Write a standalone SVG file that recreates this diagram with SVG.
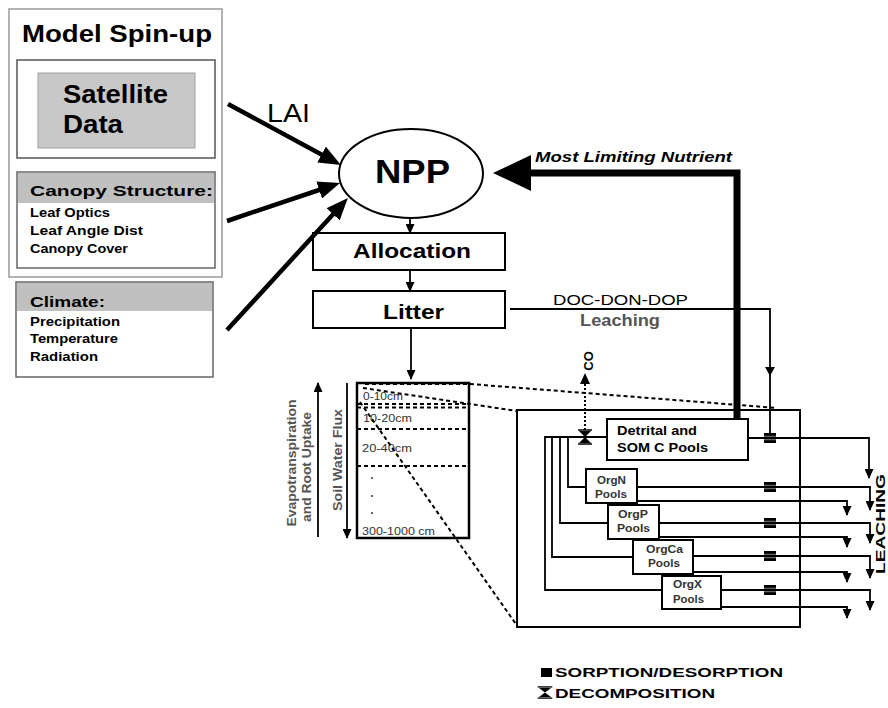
<svg xmlns="http://www.w3.org/2000/svg" width="888" height="708" viewBox="0 0 888 708">
<defs>
<style>
text{font-family:"Liberation Sans",Arial,sans-serif;fill:#000}
.b{font-weight:bold}
.box{fill:#fff;stroke:#000;stroke-width:2}
.ln{fill:none;stroke:#000;stroke-width:1.8}
.thick{fill:none;stroke:#000;stroke-width:4.5}
.dash{fill:none;stroke:#000;stroke-width:2;stroke-dasharray:4 3}
.soil{font-size:11px;fill:#333}
.org{font-size:11px;font-weight:bold;fill:#333}
.gray{fill:#555}
</style>
<marker id="big" viewBox="0 0 22 18" refX="14" refY="9" markerWidth="22" markerHeight="18" markerUnits="userSpaceOnUse" orient="auto">
<path d="M0,0 L22,9 L0,18 z" fill="#000"/>
</marker>
<marker id="sm" viewBox="0 0 10 9" refX="9" refY="4.5" markerWidth="10" markerHeight="9" markerUnits="userSpaceOnUse" orient="auto">
<path d="M0,0 L10,4.5 L0,9 z" fill="#000"/>
</marker>
<g id="sorp">
<rect x="-6" y="-5" width="12" height="10" fill="#000"/>
<line x1="-6" y1="-1.7" x2="6" y2="-1.7" stroke="#fff" stroke-width="0.5"/>
<line x1="-6" y1="1.7" x2="6" y2="1.7" stroke="#fff" stroke-width="0.5"/>
</g>
<g id="hg">
<path d="M-7,-7 H7 M-7,7 H7" stroke="#000" stroke-width="1.6"/>
<path d="M-6,-6 L6,-6 L0,0 z M-6,6 L6,6 L0,0 z" fill="#000"/>
</g>
</defs>
<rect width="888" height="708" fill="#fff"/>

<g id="spinup">
<rect x="9" y="9" width="213" height="268" fill="#fff" stroke="#9a9a9a" stroke-width="1.5"/>
<text x="22" y="42" class="b" font-size="23" textLength="190" lengthAdjust="spacingAndGlyphs">Model Spin-up</text>
</g>
<g id="satellite">
<rect x="17" y="60" width="198" height="98" fill="#fff" stroke="#555" stroke-width="1.5"/>
<rect x="38" y="73" width="157" height="75" fill="#c8c8c8" stroke="#a0a0a0" stroke-width="1"/>
<text x="63" y="103" class="b" font-size="25" textLength="105" lengthAdjust="spacingAndGlyphs">Satellite</text>
<text x="63" y="133" class="b" font-size="25" textLength="60" lengthAdjust="spacingAndGlyphs">Data</text>
</g>
<g id="canopy">
<rect x="17" y="172" width="198" height="96" fill="#fff" stroke="#666" stroke-width="1.5"/>
<rect x="18" y="173" width="196" height="30" fill="#c0c0c0"/>
<text x="30" y="196" class="b" font-size="15.5" textLength="183" lengthAdjust="spacingAndGlyphs">Canopy Structure:</text>
<text x="30" y="217" class="b" font-size="12" textLength="80" lengthAdjust="spacingAndGlyphs">Leaf Optics</text>
<text x="30" y="235" class="b" font-size="12" textLength="113" lengthAdjust="spacingAndGlyphs">Leaf Angle Dist</text>
<text x="30" y="253" class="b" font-size="12" textLength="98" lengthAdjust="spacingAndGlyphs">Canopy Cover</text>
</g>
<g id="climate">
<rect x="16" y="282" width="197" height="95" fill="#fff" stroke="#666" stroke-width="1.5"/>
<rect x="17" y="283" width="195" height="28" fill="#c0c0c0"/>
<text x="30" y="307" class="b" font-size="15.5" textLength="75" lengthAdjust="spacingAndGlyphs">Climate:</text>
<text x="30" y="326" class="b" font-size="12" textLength="90" lengthAdjust="spacingAndGlyphs">Precipitation</text>
<text x="30" y="343" class="b" font-size="12" textLength="88" lengthAdjust="spacingAndGlyphs">Temperature</text>
<text x="30" y="361" class="b" font-size="12" textLength="68" lengthAdjust="spacingAndGlyphs">Radiation</text>
</g>

<g id="npp">
<ellipse cx="411" cy="173.5" rx="72" ry="44.5" fill="#fff" stroke="#000" stroke-width="2"/>
<text x="375" y="183" class="b" font-size="34" textLength="75" lengthAdjust="spacingAndGlyphs">NPP</text>
</g>
<g id="allocation">
<rect x="313" y="233" width="192" height="37" class="box"/>
<text x="353" y="258" class="b" font-size="21" textLength="118" lengthAdjust="spacingAndGlyphs">Allocation</text>
</g>
<g id="litter">
<rect x="313" y="291" width="192" height="37" class="box"/>
<text x="383" y="319" class="b" font-size="21" textLength="61" lengthAdjust="spacingAndGlyphs">Litter</text>
</g>

<g id="soil-column">
<rect x="357" y="383" width="112" height="155" fill="#fff" stroke="#000" stroke-width="2.5"/>
<path d="M357,404 H469 M357,407.5 H469 M357,429 H469 M357,466 H469" class="dash" stroke-width="1.6"/>
<text x="363" y="400" class="soil" textLength="40" lengthAdjust="spacingAndGlyphs">0-10cm</text>
<text x="363" y="422" class="soil" textLength="49" lengthAdjust="spacingAndGlyphs">10-20cm</text>
<text x="362" y="452" class="soil" textLength="50" lengthAdjust="spacingAndGlyphs">20-40cm</text>
<circle cx="372" cy="478" r="1.1" fill="#444"/>
<circle cx="372" cy="496" r="1.1" fill="#444"/>
<circle cx="372" cy="513" r="1.1" fill="#444"/>
<text x="362" y="535" class="soil" textLength="73" lengthAdjust="spacingAndGlyphs">300-1000 cm</text>
</g>
<g id="soil-labels">
<text transform="translate(342,460) rotate(-90)" text-anchor="middle" class="b gray" font-size="13" textLength="102" lengthAdjust="spacingAndGlyphs">Soil Water Flux</text>
<text transform="translate(296,463) rotate(-90)" text-anchor="middle" class="b gray" font-size="13" textLength="127" lengthAdjust="spacingAndGlyphs">Evapotranspiration</text>
<text transform="translate(311,467) rotate(-90)" text-anchor="middle" class="b gray" font-size="13" textLength="110" lengthAdjust="spacingAndGlyphs">and Root Uptake</text>
</g>

<g id="pool-box">
<rect x="517" y="410" width="283" height="217" fill="none" stroke="#000" stroke-width="2"/>
</g>
<g id="detrital">
<rect x="607" y="419" width="141" height="41" class="box"/>
<text x="617" y="435" class="b" font-size="13" textLength="80" lengthAdjust="spacingAndGlyphs">Detrital and</text>
<text x="617" y="452" class="b" font-size="13" textLength="91" lengthAdjust="spacingAndGlyphs">SOM C Pools</text>
</g>
<g id="orgN">
<rect x="586" y="469" width="51" height="34" class="box" stroke-width="2.5"/>
<text x="597" y="484" class="org" textLength="29" lengthAdjust="spacingAndGlyphs">OrgN</text>
<text x="595" y="498" class="org" textLength="32" lengthAdjust="spacingAndGlyphs">Pools</text>
</g>
<g id="orgP">
<rect x="608" y="505" width="51" height="34" class="box" stroke-width="2.5"/>
<text x="618" y="518" class="org" textLength="30" lengthAdjust="spacingAndGlyphs">OrgP</text>
<text x="617" y="532" class="org" textLength="33" lengthAdjust="spacingAndGlyphs">Pools</text>
</g>
<g id="orgCa">
<rect x="633" y="540" width="60" height="34" class="box" stroke-width="2.5"/>
<text x="646" y="553" class="org" textLength="37" lengthAdjust="spacingAndGlyphs">OrgCa</text>
<text x="648" y="567" class="org" textLength="32" lengthAdjust="spacingAndGlyphs">Pools</text>
</g>
<g id="orgX">
<rect x="662" y="576" width="59" height="33" class="box" stroke-width="2.5"/>
<text x="673" y="588" class="org" textLength="29" lengthAdjust="spacingAndGlyphs">OrgX</text>
<text x="673" y="603" class="org" textLength="31" lengthAdjust="spacingAndGlyphs">Pools</text>
</g>

<g id="connectors">
<line x1="228" y1="104" x2="333.9" y2="161.2" class="thick" marker-end="url(#big)"/>
<line x1="227" y1="221" x2="332.4" y2="185.5" class="thick" marker-end="url(#big)"/>
<line x1="227" y1="330" x2="342.5" y2="204" class="thick" marker-end="url(#big)"/>
<text x="267" y="122" font-size="26" textLength="43" lengthAdjust="spacingAndGlyphs">LAI</text>

<path d="M737,420 V173 H528" fill="none" stroke="#000" stroke-width="7"/>
<polygon points="493,173 531,155 531,191" fill="#000"/>
<text x="535" y="162" class="b" font-style="italic" font-size="15" textLength="197" lengthAdjust="spacingAndGlyphs">Most Limiting Nutrient</text>

<line x1="410" y1="218" x2="410" y2="233" class="ln" marker-end="url(#sm)"/>
<line x1="410" y1="270" x2="410" y2="291" class="ln" marker-end="url(#sm)"/>
<line x1="411" y1="329" x2="411" y2="379" class="ln" marker-end="url(#sm)"/>

<path d="M510,309 H770 V438" class="ln"/>
<polygon points="765,367 775,367 770,376" fill="#000"/>
<text x="553" y="305" font-size="15" textLength="135" lengthAdjust="spacingAndGlyphs">DOC-DON-DOP</text>
<text x="580" y="326" class="b gray" font-size="16" textLength="80" lengthAdjust="spacingAndGlyphs">Leaching</text>

<path d="M365,384 L470,384 L777,408" class="dash"/>
<path d="M363,388 L517,411" class="dash"/>
<path d="M360,402 L518,627" class="dash"/>

<line x1="347" y1="383" x2="347" y2="538" class="ln" marker-end="url(#sm)"/>
<line x1="318" y1="537" x2="318" y2="383" class="ln" marker-end="url(#sm)"/>

<line x1="585" y1="430" x2="585" y2="384" fill="none" stroke="#000" stroke-width="2" stroke-dasharray="2 2"/>
<polygon points="580,384 590,384 585,373" fill="#000"/>
<text transform="translate(593,361) rotate(-90)" text-anchor="middle" class="b" font-size="13">CO</text>

<path d="M607,437 H545 V590 H662" class="ln"/>
<path d="M552,437 V557 H633" class="ln"/>
<path d="M560,437 V523 H608" class="ln"/>
<path d="M568,437 V487 H586" class="ln"/>
<use href="#hg" x="585" y="437"/>

<path d="M748,438 H869 V478" class="ln" marker-end="url(#sm)"/>
<path d="M637,487 H870 V510" class="ln" marker-end="url(#sm)"/>
<path d="M637,501 H847 V515" class="ln" marker-end="url(#sm)"/>
<path d="M659,523 H870 V543" class="ln" marker-end="url(#sm)"/>
<path d="M659,537 H847 V547" class="ln" marker-end="url(#sm)"/>
<path d="M693,556 H870 V578" class="ln" marker-end="url(#sm)"/>
<path d="M693,572 H847 V582" class="ln" marker-end="url(#sm)"/>
<path d="M721,590 H870 V610" class="ln" marker-end="url(#sm)"/>
<path d="M721,607 H847 V618" class="ln" marker-end="url(#sm)"/>
<use href="#sorp" x="770" y="438"/>
<use href="#sorp" x="770" y="487"/>
<use href="#sorp" x="770" y="523"/>
<use href="#sorp" x="770" y="556"/>
<use href="#sorp" x="770" y="590"/>
<text transform="translate(884.5,524) rotate(-90)" text-anchor="middle" class="b" font-size="13" textLength="100" lengthAdjust="spacingAndGlyphs">LEACHING</text>
</g>

<g id="legend">
<rect x="541" y="668" width="11" height="9" fill="#000"/>
<text x="555" y="677" class="b" font-size="13" textLength="228" lengthAdjust="spacingAndGlyphs">SORPTION/DESORPTION</text>
<use href="#hg" x="545" y="692.5" transform="translate(545,692.5) scale(1.05,0.8) translate(-545,-692.5)"/>
<text x="555" y="698" class="b" font-size="13" textLength="160" lengthAdjust="spacingAndGlyphs">DECOMPOSITION</text>
</g>
</svg>
